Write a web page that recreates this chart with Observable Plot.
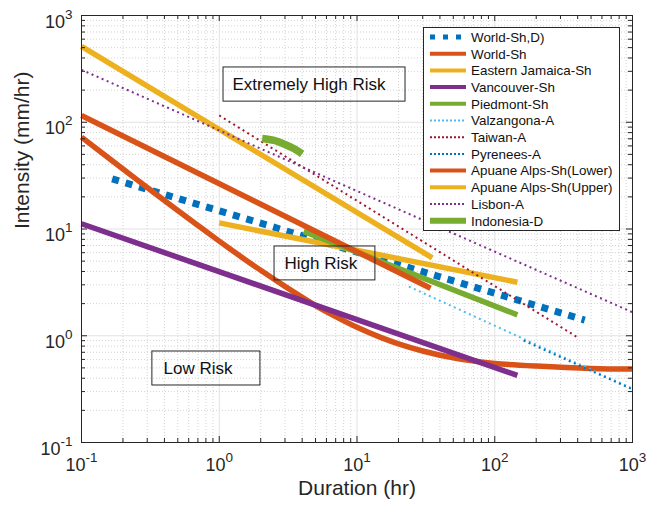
<!DOCTYPE html>
<html><head><meta charset="utf-8">
<script src="https://cdn.jsdelivr.net/npm/d3@7"></script>
<script src="https://cdn.jsdelivr.net/npm/@observablehq/plot@0.6"></script>
<style>
html,body{margin:0;padding:0;background:#fff;}
#chart{position:relative;width:648px;height:508px;font-family:"Liberation Sans",Arial,sans-serif;}
</style></head><body><div id="chart"></div>
<script>
// ---- series (legend order) ----
const seriesNames = ["World-Sh,D)", "World-Sh", "Eastern Jamaica-Sh", "Vancouver-Sh", "Piedmont-Sh",
  "Valzangona-A", "Taiwan-A", "Pyrenees-A", "Apuane Alps-Sh(Lower)", "Apuane Alps-Sh(Upper)", "Lisbon-A", "Indonesia-D"];

// durations (hr) and intensities (mm/hr)
const durWorldShD = [0.167, 450];
const intWorldShD = [29.5, 1.40];
const durWorldSh = [0.1, 0.2, 0.3, 0.5, 0.7, 1, 1.5, 2, 3, 5, 7, 10, 15, 20, 30, 50, 70, 100, 200, 500, 1000];
const intWorldSh = [72.5, 36.5, 24.5, 14.9, 10.8, 7.7, 5.3, 4.1, 2.9, 1.92, 1.51, 1.2, 0.96, 0.84, 0.72, 0.62, 0.58, 0.55, 0.52, 0.494, 0.487];
const durJamaica = [1, 146];
const intJamaica = [11.4, 3.17];
const durVancouver = [0.1, 146];
const intVancouver = [11.2, 0.425];
const durPiedmont = [4.1, 146];
const intPiedmont = [9.5, 1.57];
const durValzangona = [23.8, 1000];
const intValzangona = [2.89, 0.32];
const durTaiwan = [1, 397];
const intTaiwan = [115.8, 0.97];
const durPyrenees = [162, 1000];
const intPyrenees = [0.90, 0.314];
const durApuaneLower = [0.1, 34.2];
const intApuaneLower = [115.7, 2.79];
const durApuaneUpper = [0.1, 35.2];
const intApuaneUpper = [513, 5.37];
const durLisbon = [0.1, 1000];
const intLisbon = [310, 1.66];
const durIndonesia = [2.05, 2.5, 3, 3.5, 4];
const intIndonesia = [70.5, 67.5, 62, 56.5, 50.5];

const durations = [durWorldShD, durWorldSh, durJamaica, durVancouver, durPiedmont, durValzangona,
  durTaiwan, durPyrenees, durApuaneLower, durApuaneUpper, durLisbon, durIndonesia];
const intensities = [intWorldShD, intWorldSh, intJamaica, intVancouver, intPiedmont, intValzangona,
  intTaiwan, intPyrenees, intApuaneLower, intApuaneUpper, intLisbon, intIndonesia];

// tick labels
const xTickValues = [0.1, 1, 10, 100, 1000];
const xTickLabels = ["10^-1", "10^0", "10^1", "10^2", "10^3"];
const yTickValues = [0.1, 1, 10, 100, 1000];
const yTickLabels = ["10^-1", "10^0", "10^1", "10^2", "10^3"];

// region annotations
const annoLabels = ["Extremely High Risk", "High Risk", "Low Risk"];
const annoTextD = [1.248, 2.976, 0.394];
const annoTextI = [225.7, 4.75, 0.493];
const annoBoxD1 = [1.074, 2.52, 0.327];
const annoBoxD2 = [22.5, 13.6, 1.99];
const annoBoxI1 = [156, 3.30, 0.342];
const annoBoxI2 = [326, 6.86, 0.712];

// ---- styles ----
const seriesColors = ["#0072BD", "#D95319", "#EDB120", "#7E2F8E", "#77AC30", "#4DBEEE", "#A2142F",
  "#0072BD", "#D95319", "#EDB120", "#7E2F8E", "#77AC30"];
const seriesWidth = [7, 5.5, 5.5, 5.5, 5.5, 2, 2, 2, 5.5, 5.5, 2, 7.5];
const seriesDash = ["7,7", null, null, null, null, "2,3.5", "2,3.5", "2,3.5", null, null, "2,3.5", null];
const seriesCurve = ["linear", "catmull-rom", "linear", "linear", "linear", "linear", "linear", "linear", "linear", "linear", "linear", "catmull-rom"];
const legWidth = [5, 4, 4, 4, 4, 2, 2, 2, 4, 4, 2, 6];
const legDash = ["5,8", null, null, null, null, "2,2", "2,2", "2,2", null, null, "2,2", null];

const W = 648, H = 508, mL = 81, mR = 16, mT = 15, mB = 66;
const innerW = W - mL - mR, innerH = H - mT - mB;
const axisColor = "#262626";

const logTicks = d3.scaleLog().domain([0.1, 1000]).ticks();
const minorTicks = logTicks.filter(v => !xTickValues.some(m => Math.abs(m - v) / m < 1e-9));

const rows = seriesNames.flatMap((name, i) => durations[i].map((d, j) => ({series: name, D: d, I: intensities[i][j]})));

const lineMarks = seriesNames.map((name, i) => Plot.line(rows.filter(r => r.series === name), {
  x: "D", y: "I", stroke: seriesColors[i], strokeWidth: seriesWidth[i],
  strokeDasharray: seriesDash[i] || undefined, strokeLinecap: "butt", curve: seriesCurve[i]
}));

const tickLen = 6, minorLen = 4;

const chart = Plot.plot({
  width: W, height: H,
  marginLeft: mL, marginRight: mR, marginTop: mT, marginBottom: mB,
  style: {fontFamily: "'Liberation Sans', Arial, sans-serif", background: "white", overflow: "visible"},
  x: {type: "log", domain: [0.1, 1000], axis: null},
  y: {type: "log", domain: [0.1, 1000], axis: null},
  marks: [
    // grid
    Plot.ruleX(minorTicks, {x: d => d, stroke: "#c8c8c8", strokeDasharray: "1,2", strokeWidth: 0.8}),
    Plot.ruleY(minorTicks, {y: d => d, stroke: "#c8c8c8", strokeDasharray: "1,2", strokeWidth: 0.8}),
    Plot.ruleX(xTickValues, {x: d => d, stroke: "#e2e2e2", strokeWidth: 1}),
    Plot.ruleY(yTickValues, {y: d => d, stroke: "#e2e2e2", strokeWidth: 1}),
    // data
    ...lineMarks,
    // annotations
    Plot.rect(annoLabels, {x1: (d, i) => annoBoxD1[i], x2: (d, i) => annoBoxD2[i], y1: (d, i) => annoBoxI1[i], y2: (d, i) => annoBoxI2[i], fill: "none", stroke: axisColor, strokeWidth: 1}),
    Plot.text(annoLabels, {x: (d, i) => annoTextD[i], y: (d, i) => annoTextI[i], text: d => d, textAnchor: "start", fontSize: 17, fill: "#111"}),
    // frame and inward ticks
    Plot.frame({stroke: axisColor, strokeWidth: 1}),
    Plot.ruleX(xTickValues, {x: d => d, insetTop: innerH - tickLen, stroke: axisColor}),
    Plot.ruleX(xTickValues, {x: d => d, insetBottom: innerH - tickLen, stroke: axisColor}),
    Plot.ruleX(minorTicks, {x: d => d, insetTop: innerH - minorLen, stroke: axisColor}),
    Plot.ruleX(minorTicks, {x: d => d, insetBottom: innerH - minorLen, stroke: axisColor}),
    Plot.ruleY(yTickValues, {y: d => d, insetRight: innerW - tickLen, stroke: axisColor}),
    Plot.ruleY(yTickValues, {y: d => d, insetLeft: innerW - tickLen, stroke: axisColor}),
    Plot.ruleY(minorTicks, {y: d => d, insetRight: innerW - minorLen, stroke: axisColor}),
    Plot.ruleY(minorTicks, {y: d => d, insetLeft: innerW - minorLen, stroke: axisColor}),
    // tick labels
    Plot.text(xTickValues, {x: d => d, frameAnchor: "bottom", text: (d, i) => xTickLabels[i], dy: 28, lineAnchor: "bottom", fontSize: 18, fill: axisColor}),
    Plot.text(yTickValues, {y: d => d, frameAnchor: "left", textAnchor: "end", text: (d, i) => yTickLabels[i], dx: -9, dy: 12, lineAnchor: "bottom", fontSize: 18, fill: axisColor}),
    // axis titles
    Plot.text(["Duration (hr)"], {frameAnchor: "bottom", text: d => d, dy: 52, fontSize: 21, fill: axisColor}),
    Plot.text(["Intensity (mm/hr)"], {frameAnchor: "left", text: d => d, dx: -59, rotate: -90, fontSize: 21, fill: axisColor})
  ]
});

// superscripts for tick labels
Array.from(chart.querySelectorAll("text")).filter(t => t.textContent.includes("^")).forEach(t => {
  const parts = t.textContent.split("^");
  while (t.firstChild) t.removeChild(t.firstChild);
  t.appendChild(document.createTextNode(parts[0]));
  const ts = document.createElementNS("http://www.w3.org/2000/svg", "tspan");
  ts.setAttribute("dy", "-9");
  ts.setAttribute("font-size", "13.5");
  ts.textContent = parts[1];
  t.appendChild(ts);
});

const root = document.getElementById("chart");
root.appendChild(chart);

// legend overlay
const leg = d3.select(root).append("svg").attr("width", W).attr("height", H)
  .style("position", "absolute").style("left", "0px").style("top", "0px")
  .style("font-family", "'Liberation Sans', Arial, sans-serif");
leg.append("rect").attr("x", 423.5).attr("y", 27.5).attr("width", 196).attr("height", 203)
  .attr("fill", "white").attr("stroke", axisColor).attr("stroke-width", 1);
seriesNames.forEach((name, i) => {
  const y = 37 + 16.7 * i;
  const ln = leg.append("line").attr("x1", 430).attr("x2", 466).attr("y1", y).attr("y2", y)
    .attr("stroke", seriesColors[i]).attr("stroke-width", legWidth[i]);
  if (legDash[i]) ln.attr("stroke-dasharray", legDash[i]);
  leg.append("text").attr("x", 471).attr("y", y).attr("dy", "0.36em").attr("font-size", 13.4)
    .attr("fill", "#111").text(name);
});
</script></body></html>
